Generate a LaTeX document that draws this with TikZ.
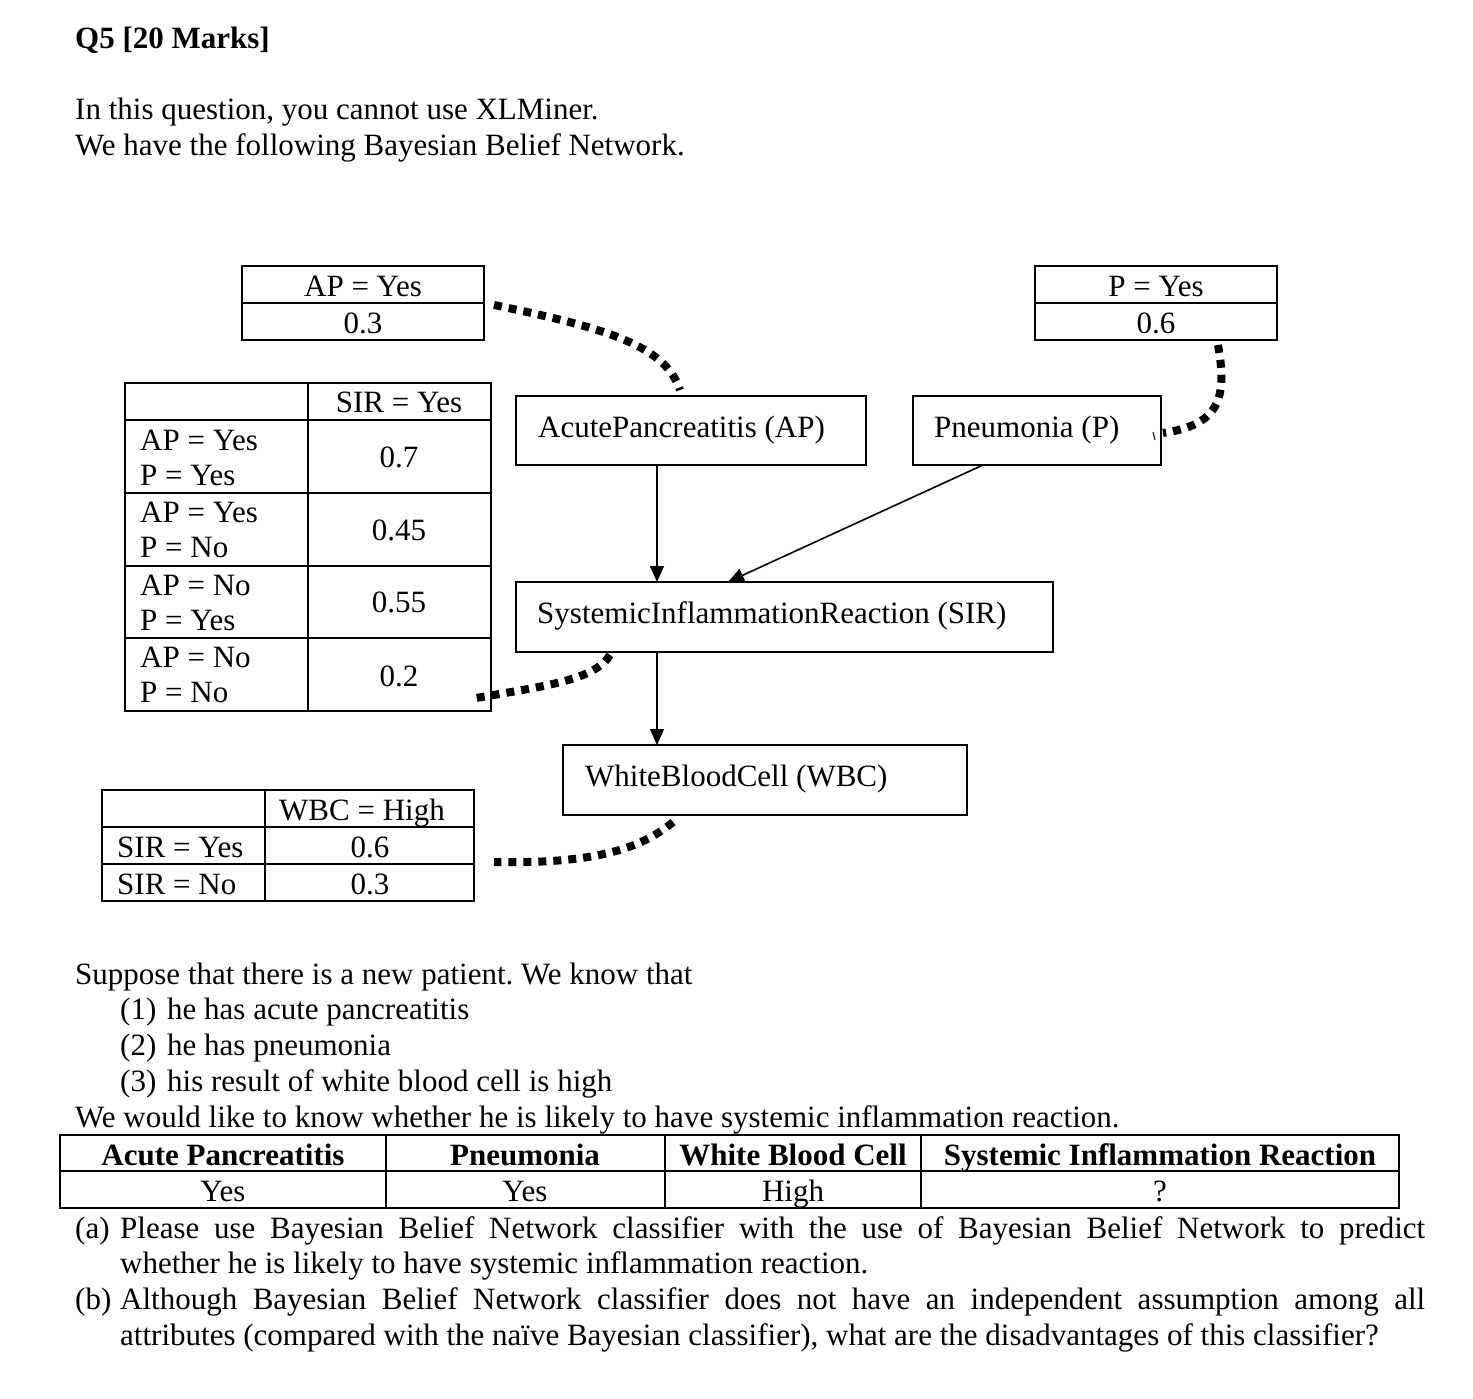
\documentclass[tikz,border=0pt]{standalone}
\usepackage{fontspec}
\setmainfont{Liberation Serif}
\usetikzlibrary{arrows.meta}
\frenchspacing
\tikzset{
  txt/.style={inner sep=0pt, anchor=base west},
  ctxt/.style={inner sep=0pt, anchor=base},
  frame/.style={line width=2pt},
  arr/.style={line width=1.6pt, -{Triangle[width=14pt,length=16pt]}},
  sqdots/.style={line width=8pt, line cap=butt, dash pattern=on 8pt off 7pt},
  hdr/.style={inner sep=0pt, anchor=base, font=\fontsize{31}{37}\selectfont\bfseries}
}
\begin{document}
\begin{tikzpicture}[x=1pt,y=-1pt,font=\fontsize{31}{37}\selectfont]
\useasboundingbox (0,0) rectangle (1473,1399);
\fill[white] (0,0) rectangle (1473,1399);
% header text
\node[txt,font=\fontsize{31}{37}\selectfont\bfseries] (title) at (75,49) {Q5 [20 Marks]};
\node[txt] (intro1) at (75,120) {In this question, you cannot use XLMiner.};
\node[txt] (intro2) at (75,156) {We have the following Bayesian Belief Network.};
% AP prior table
\draw[frame] (242,266) rectangle (484,340) (242,303) -- (484,303);
\node[ctxt] (apyes) at (363,296) {AP = Yes};
\node[ctxt] (apval) at (363,333) {0.3};
% P prior table
\draw[frame] (1035,266) rectangle (1277,340) (1035,303) -- (1277,303);
\node[ctxt] (pyes) at (1156,296) {P = Yes};
\node[ctxt] (pval) at (1156,333) {0.6};
% SIR CPT
\draw[frame] (125,383) rectangle (491,711) (308,383) -- (308,711)
  (125,420) -- (491,420) (125,493) -- (491,493) (125,566) -- (491,566) (125,638) -- (491,638);
\node[ctxt] (sirh) at (399,412) {SIR = Yes};
\node[txt] (r1a) at (140,450) {AP = Yes};
\node[txt] (r1b) at (140,485) {P = Yes};
\node[ctxt] (r1v) at (399,467) {0.7};
\node[txt] (r2a) at (140,522) {AP = Yes};
\node[txt] (r2b) at (140,557) {P = No};
\node[ctxt] (r2v) at (399,540) {0.45};
\node[txt] (r3a) at (140,595) {AP = No};
\node[txt] (r3b) at (140,630) {P = Yes};
\node[ctxt] (r3v) at (399,612) {0.55};
\node[txt] (r4a) at (140,667) {AP = No};
\node[txt] (r4b) at (140,702) {P = No};
\node[ctxt] (r4v) at (399,686) {0.2};
% WBC CPT
\draw[frame] (102,790) rectangle (474,901) (265,790) -- (265,901)
  (102,827) -- (474,827) (102,864) -- (474,864);
\node[ctxt] (wbch) at (362,820) {WBC = High};
\node[txt] (w1a) at (117,857) {SIR = Yes};
\node[ctxt] (w1v) at (370,857) {0.6};
\node[txt] (w2a) at (117,894) {SIR = No};
\node[ctxt] (w2v) at (370,894) {0.3};
% network boxes
\draw[frame] (516,396) rectangle (866,465);
\node[txt] (aplab) at (538,437) {AcutePancreatitis (AP)};
\coordinate (apbot) at (657,465);
\draw[frame] (913,396) rectangle (1161,465);
\node[txt] (plab) at (934,437) {Pneumonia (P)};
\coordinate (pbot) at (983,465);
\draw[frame] (516,582) rectangle (1053,652);
\node[txt] (sirlab) at (537,623) {SystemicInflammationReaction (SIR)};
\coordinate (sirtopA) at (657,582);
\coordinate (sirtopB) at (728,582);
\coordinate (sirbot) at (657,652);
\draw[frame] (563,745) rectangle (967,815);
\node[txt] (wbclab) at (585,786) {WhiteBloodCell (WBC)};
\coordinate (wbctop) at (657,745);
% arrows
\draw[arr] (apbot) -- (sirtopA);
\draw[arr] (pbot) -- (sirtopB);
\draw[arr] (sirbot) -- (wbctop);
% dotted links
\coordinate (d1s) at (494,305); \coordinate (d1e) at (680,390);
\draw[sqdots] (d1s) .. controls (605,328) and (665,345) .. (d1e);
\coordinate (d2s) at (1218,345); \coordinate (d2e) at (1163,433);
\draw[sqdots] (d2s) .. controls (1228,400) and (1218,425) .. (d2e);
\draw[line width=1pt] (1153,432) -- (1155,440);
\coordinate (d3s) at (610,655); \coordinate (d3e) at (476,698);
\draw[sqdots] (d3s) .. controls (595,680) and (545,686) .. (d3e);
\coordinate (d4s) at (673,822); \coordinate (d4e) at (494,862);
\draw[sqdots] (d4s) .. controls (640,850) and (590,864) .. (d4e);
% lower text
\node[txt] (sup) at (75,984) {Suppose that there is a new patient. We know that};
\node[txt] (k1n) at (120,1019) {(1)};
\node[txt] (k1) at (167,1019) {he has acute pancreatitis};
\node[txt] (k2n) at (120,1055) {(2)};
\node[txt] (k2) at (167,1055) {he has pneumonia};
\node[txt] (k3n) at (120,1091) {(3)};
\node[txt] (k3) at (167,1091) {his result of white blood cell is high};
\node[txt] (want) at (75,1127) {We would like to know whether he is likely to have systemic inflammation reaction.};
% data table
\draw[frame] (60,1135) rectangle (1399,1208) (60,1171) -- (1399,1171)
  (386,1135) -- (386,1208) (665,1135) -- (665,1208) (921,1135) -- (921,1208);
\node[hdr] (h1) at (223,1165) {Acute Pancreatitis};
\node[hdr] (h2) at (525,1165) {Pneumonia};
\node[hdr] (h3) at (793,1165) {White Blood Cell};
\node[hdr] (h4) at (1160,1165) {Systemic Inflammation Reaction};
\node[ctxt] (v1) at (223,1201) {Yes};
\node[ctxt] (v2) at (525,1201) {Yes};
\node[ctxt] (v3) at (793,1201) {High};
\node[ctxt] (v4) at (1160,1201) {?};
% questions
\node[txt] (qa) at (75,1238) {(a)};
\node[txt] (qa1) at (120,1238) {\makebox[1305pt][s]{Please use Bayesian Belief Network classifier with the use of Bayesian Belief Network to predict}};
\node[txt] (qa2) at (120,1273) {whether he is likely to have systemic inflammation reaction.};
\node[txt] (qb) at (75,1309) {(b)};
\node[txt] (qb1) at (120,1309) {\makebox[1305pt][s]{Although Bayesian Belief Network classifier does not have an independent assumption among all}};
\node[txt] (qb2) at (120,1345) {attributes (compared with the naïve Bayesian classifier), what are the disadvantages of this classifier?};
\end{tikzpicture}
\end{document}
